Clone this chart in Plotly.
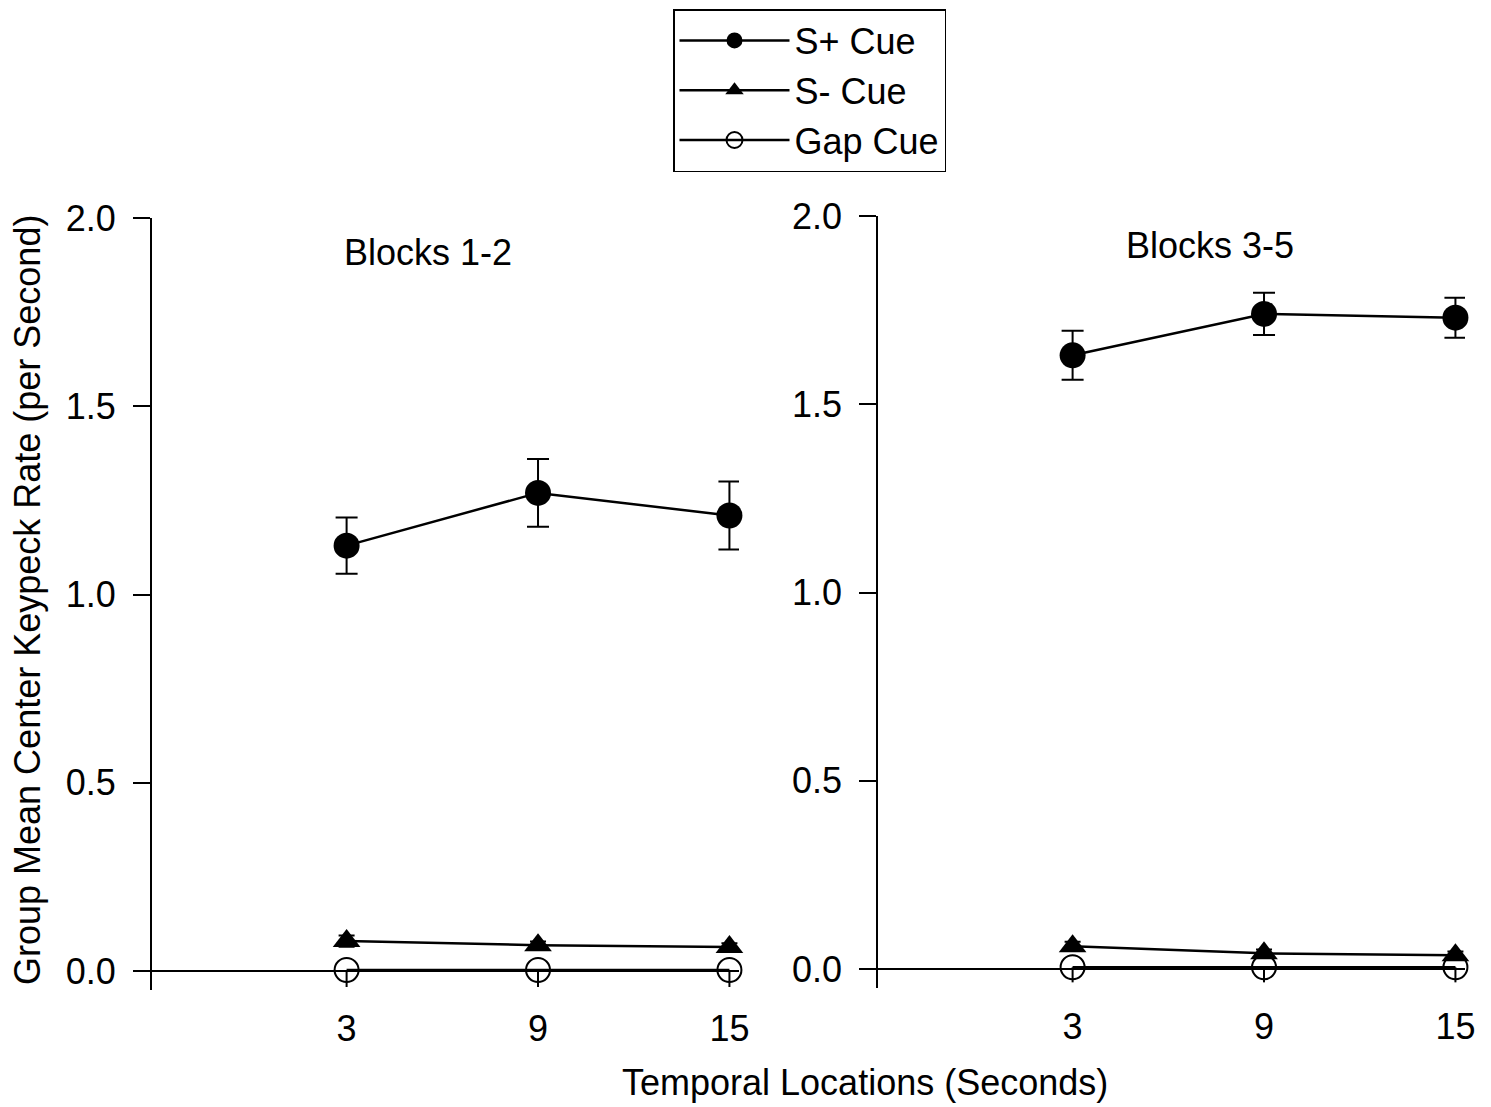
import plotly.graph_objects as go

# ---------------- data ----------------
time_s = [3, 9, 15]
tick_vals_y = [0.0, 0.5, 1.0, 1.5, 2.0]
panel_titles = ["Blocks 1-2", "Blocks 3-5"]
series_names = ["S+ Cue", "S- Cue", "Gap Cue"]

# Blocks 1-2
b12_splus = [1.13, 1.27, 1.21]
b12_splus_err = [0.075, 0.09, 0.09]
b12_sminus = [0.080, 0.069, 0.064]
b12_sminus_err = [0.015, 0.010, 0.010]
b12_gap = [0.003, 0.003, 0.003]
b12_gap_err = [0.045, 0.045, 0.045]

# Blocks 3-5
b35_splus = [1.63, 1.74, 1.73]
b35_splus_err = [0.065, 0.056, 0.053]
b35_sminus = [0.061, 0.042, 0.037]
b35_sminus_err = [0.012, 0.010, 0.010]
b35_gap = [0.005, 0.005, 0.005]
b35_gap_err = [0.040, 0.040, 0.040]

FONT = "Liberation Sans, Arial, sans-serif"
FS = 36

fig = go.Figure()


def add_panel(xa, ya, splus, splus_err, sminus, sminus_err, gap, gap_err, show):
    fig.add_trace(go.Scatter(
        x=time_s, y=splus, name=series_names[0], mode="lines+markers",
        xaxis=xa, yaxis=ya, showlegend=show, legendgroup="a", cliponaxis=False,
        line=dict(color="black", width=2.5),
        marker=dict(symbol="circle", size=26, color="black"),
        error_y=dict(type="data", array=splus_err, color="black", thickness=2, width=11),
    ))
    fig.add_trace(go.Scatter(
        x=time_s, y=sminus, name=series_names[1], mode="lines+markers",
        xaxis=xa, yaxis=ya, showlegend=show, legendgroup="b", cliponaxis=False,
        line=dict(color="black", width=2.5),
        marker=dict(symbol="triangle-up", size=24, color="black"),
        error_y=dict(type="data", array=sminus_err, color="black", thickness=2, width=8),
    ))
    fig.add_trace(go.Scatter(
        x=time_s, y=gap, name=series_names[2], mode="lines+markers",
        xaxis=xa, yaxis=ya, showlegend=show, legendgroup="c", cliponaxis=False,
        line=dict(color="black", width=2.5),
        marker=dict(symbol="circle-open", size=24, color="black", line=dict(width=2)),
        error_y=dict(type="data", symmetric=False, array=[0, 0, 0], arrayminus=gap_err,
                     color="black", thickness=2, width=0),
    ))


add_panel("x", "y", b12_splus, b12_splus_err, b12_sminus, b12_sminus_err, b12_gap, b12_gap_err, True)
add_panel("x2", "y2", b35_splus, b35_splus_err, b35_sminus, b35_sminus_err, b35_gap, b35_gap_err, False)

W, H = 1491, 1107

xcommon = dict(range=[-3.1, 15.3], showgrid=False, zeroline=False, showline=False,
               automargin=False, ticks="", tickvals=time_s, ticklabelstandoff=14,
               tickfont=dict(family=FONT, size=FS, color="black"))
ycommon = dict(range=[-0.05, 2.0], showgrid=False, zeroline=True, zerolinecolor="black",
               zerolinewidth=2, showline=True, linecolor="black", ticks="outside",
               automargin=False,
               ticklen=17, tickwidth=2, tickcolor="black", tickvals=tick_vals_y,
               tickformat=".1f", ticklabelstandoff=10,
               tickfont=dict(family=FONT, size=FS, color="black"))

ann_common = dict(xref="paper", yref="paper", showarrow=False, xanchor="center",
                  yanchor="middle", font=dict(family=FONT, size=FS, color="black"))

fig.update_layout(
    template="none",
    width=W, height=H, autosize=False,
    margin=dict(l=0, r=0, t=0, b=0, pad=0, autoexpand=False),
    paper_bgcolor="white", plot_bgcolor="white",
    font=dict(family=FONT, size=FS, color="black"),
    xaxis=dict(domain=[152 / W, 739 / W], anchor="y", **xcommon),
    xaxis2=dict(domain=[878 / W, 1465 / W], anchor="y2", **xcommon),
    yaxis=dict(domain=[1 - 990 / H, 1 - 218 / H], anchor="x", linewidth=2, **ycommon),
    yaxis2=dict(domain=[1 - 988 / H, 1 - 216 / H], anchor="x2", linewidth=1.5, **ycommon),
    legend=dict(x=673 / W, y=1 - 9 / H, xanchor="left", yanchor="top",
                bordercolor="black", borderwidth=1.5, bgcolor="white",
                font=dict(family=FONT, size=FS, color="black"),
                itemwidth=110, entrywidth=290, entrywidthmode="pixels",
                tracegroupgap=0),
    showlegend=True,
    annotations=[
        dict(text=panel_titles[0], x=428 / W, y=1 - 253 / H, **ann_common),
        dict(text=panel_titles[1], x=1210 / W, y=1 - 245 / H, **ann_common),
        dict(text="Temporal Locations (Seconds)", x=865 / W, y=1 - 1082 / H, **ann_common),
        dict(text="Group Mean Center Keypeck Rate (per Second)", x=27 / W, y=1 - 600 / H,
             textangle=-90, **ann_common),
    ],
)

fig.write_html("out.html")
